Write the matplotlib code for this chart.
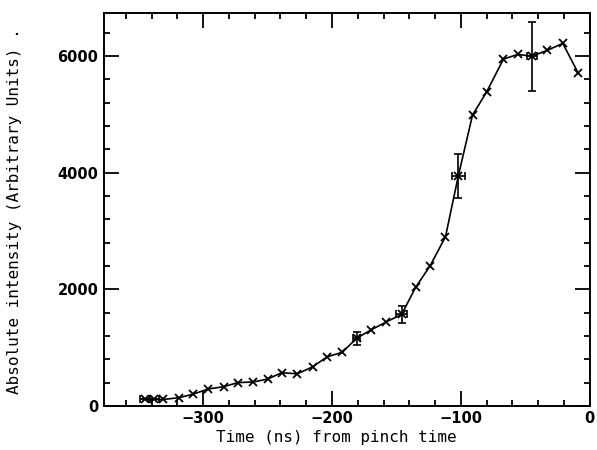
import matplotlib
matplotlib.use("Agg")
import matplotlib.pyplot as plt
from matplotlib.ticker import MultipleLocator
import numpy as np

# time from pinch (ns) and intensity (arbitrary units)
time_ns = [-345, -338, -331, -319, -308, -296, -284, -273, -261, -250,
           -239, -227, -215, -204, -192, -181, -170, -158, -146,
           -135, -124, -112, -102, -91, -80, -67, -56, -45, -33, -21, -9]
intensity = [110, 110, 110, 140, 200, 290, 330, 400, 410, 460,
             570, 550, 670, 840, 920, 1160, 1300, 1440, 1570,
             2040, 2400, 2900, 3950, 4990, 5390, 5950, 6030, 6000, 6100, 6220, 5710]

# points carrying error bars
err_t = [-345, -338, -181, -146, -102, -45]
err_y = [110, 110, 1160, 1570, 3950, 6000]
err_dt = [4, 4, 3, 4.5, 5, 4]
err_dy = [0, 0, 110, 145, 375, 590]

fig = plt.figure(figsize=(5.97, 4.5), dpi=100)
ax = fig.add_axes([0.174, 0.098, 0.814, 0.873])

ax.plot(time_ns, intensity, color="black", lw=1.2, marker="x",
        markersize=6, markeredgewidth=1.3)
ax.errorbar(err_t, err_y, xerr=err_dt, yerr=err_dy, fmt="none",
            ecolor="black", elinewidth=1.2, capsize=3, capthick=1.2)

ax.set_xlim(-377, 0)
ax.set_ylim(0, 6740)
ax.xaxis.set_major_locator(MultipleLocator(100))
ax.xaxis.set_minor_locator(MultipleLocator(20))
ax.yaxis.set_major_locator(MultipleLocator(2000))
ax.yaxis.set_minor_locator(MultipleLocator(400))

ax.tick_params(which="both", direction="in", top=True, right=True, width=1.3)
ax.tick_params(which="major", length=11, labelsize=10.5, pad=4)
ax.tick_params(which="minor", length=4)
for lab in ax.get_xticklabels() + ax.get_yticklabels():
    lab.set_fontweight("bold")
for spine in ax.spines.values():
    spine.set_linewidth(1.4)

ax.set_xlabel("Time (ns) from pinch time", family="DejaVu Sans Mono",
              fontsize=11.5)
ax.set_ylabel("Absolute intensity (Arbitrary Units) .", family="DejaVu Sans Mono",
              fontsize=11.5)
ax.xaxis.set_label_coords(0.479, -0.062)
ax.yaxis.set_label_coords(-0.168, 0.496)

fig.savefig("out.png", dpi=100)
